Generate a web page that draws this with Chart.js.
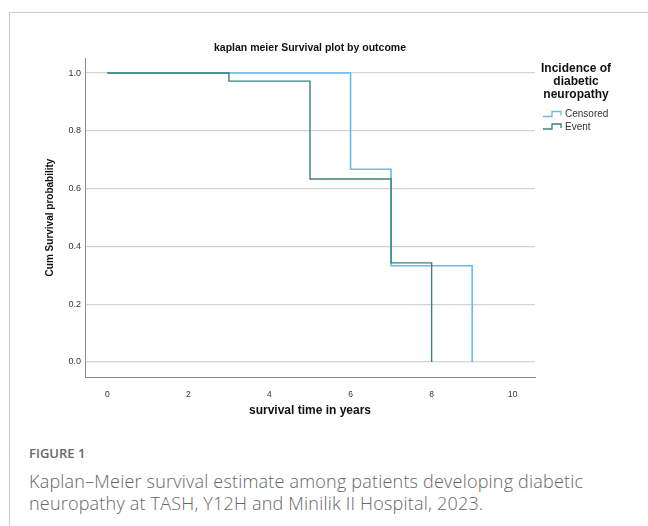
<!DOCTYPE html>
<html>
<head>
<meta charset="utf-8">
<script src="https://cdn.jsdelivr.net/npm/chart.js@4.4.1/dist/chart.umd.min.js"></script>
<style>
    body { margin: 0; background: #fff; width: 648px; height: 526px; overflow: hidden; position: relative; }
    .frame-top { position: absolute; left: 9px; top: 12px; width: 639px; border-top: 1.5px solid #cbcbcb; }
    .frame-left { position: absolute; left: 9px; top: 12px; height: 514px; border-left: 1.5px solid #cbcbcb; }
    #km-chart { position: absolute; left: 0; top: 0; }
    .caption { position: absolute; left: 29px; top: 442px; font-family: "Open Sans", sans-serif; color: #666; }
    .caption .fig { font-size: 13px; font-weight: 600; line-height: 22px; margin-bottom: 6px; }
    .caption .text { font-size: 18px; font-weight: 300; letter-spacing: 0.2px; line-height: 22px; width: 615px; white-space: nowrap; }
</style>
</head>
<body>
<div class="frame-top"></div>
<div class="frame-left"></div>
<canvas id="km-chart" width="648" height="430"></canvas>
<div class="caption">
    <div class="fig">FIGURE 1</div>
    <div class="text">Kaplan–Meier survival estimate among patients developing diabetic<br>neuropathy at TASH, Y12H and Minilik II Hospital, 2023.</div>
</div>
<script>
const chartTitle = 'kaplan meier Survival plot by outcome';
const legendTitle = ['Incidence of', 'diabetic', 'neuropathy'];
const seriesLabels = ['Censored', 'Event'];

// step points: survival drops at each listed time
const censoredTimes = [0, 6, 7, 9];
const censoredSurv = [1.0, 0.667, 0.333, 0.0];
const eventTimes = [0, 3, 5, 7, 8];
const eventSurv = [1.0, 0.972, 0.633, 0.343, 0.0];

const xTicks = [0, 2, 4, 6, 8, 10];
const yTicks = [0.0, 0.2, 0.4, 0.6, 0.8, 1.0];

const FONT = '"Liberation Sans", Arial, sans-serif';

function toPoints(times, values) {
    return times.map((t, i) => ({ x: t, y: values[i] }));
}

// title + step-icon legend, drawn on top
const decorations = {
    id: 'decorations',
    afterDraw(chart) {
        const ctx = chart.ctx;
        const area = chart.chartArea;
        ctx.save();
        ctx.fillStyle = '#111';
        ctx.textAlign = 'center';
        ctx.textBaseline = 'middle';
        ctx.font = 'bold 10.5px ' + FONT;
        ctx.fillText(chartTitle, (area.left + area.right) / 2, 48);

        ctx.font = 'bold 12px ' + FONT;
        legendTitle.forEach((t, i) => ctx.fillText(t, 576, 69 + i * 13));

        ctx.font = '10px ' + FONT;
        ctx.textAlign = 'left';
        chart.data.datasets.forEach((ds, i) => {
            const y = 114.5 + i * 12.5;
            ctx.strokeStyle = ds.borderColor;
            ctx.lineWidth = 1.3;
            ctx.beginPath();
            ctx.moveTo(543, y + 2);
            ctx.lineTo(552, y + 2);
            ctx.lineTo(552, y - 3);
            ctx.lineTo(561, y - 3);
            ctx.lineTo(561, y + 1);
            ctx.stroke();
            ctx.fillStyle = '#333';
            ctx.fillText(ds.label, 565, y);
        });
        ctx.restore();
    }
};

const ctx = document.getElementById('km-chart').getContext('2d');
const kmChart = new Chart(ctx, {
    type: 'line',
    data: {
        datasets: [
            {
                label: seriesLabels[0],
                data: toPoints(censoredTimes, censoredSurv),
                borderColor: '#6cb9ea',
                borderWidth: 1.6,
                stepped: 'before',
                pointRadius: 0,
                fill: false,
                order: 2
            },
            {
                label: seriesLabels[1],
                data: toPoints(eventTimes, eventSurv),
                borderColor: '#3b7f7e',
                borderWidth: 1.4,
                stepped: 'before',
                pointRadius: 0,
                fill: false,
                order: 1
            }
        ]
    },
    options: {
        responsive: false,
        animation: false,
        layout: {
            padding: { left: 20, top: 58, right: 113, bottom: 0 }
        },
        plugins: {
            legend: { display: false },
            title: { display: false },
            tooltip: { enabled: false }
        },
        scales: {
            x: {
                type: 'linear',
                min: -0.55,
                max: 10.55,
                afterBuildTicks: (scale) => { scale.ticks = xTicks.map(v => ({ value: v })); },
                afterFit: (scale) => { scale.height = 53; },
                ticks: {
                    padding: 5,
                    color: '#333',
                    font: { family: FONT, size: 8.5 },
                    callback: (v) => String(v)
                },
                grid: { display: false },
                border: { display: true, color: '#8a8a8a', width: 1 },
                title: {
                    display: true,
                    text: 'survival time in years',
                    color: '#111',
                    font: { family: FONT, size: 12, weight: 'bold' },
                    padding: { top: 0, bottom: 12 }
                }
            },
            y: {
                type: 'linear',
                min: -0.052,
                max: 1.052,
                afterBuildTicks: (scale) => { scale.ticks = yTicks.map(v => ({ value: v })); },
                afterFit: (scale) => { scale.width = 65; },
                ticks: {
                    padding: 4,
                    color: '#333',
                    font: { family: FONT, size: 9 },
                    callback: (v) => Number(v).toFixed(1)
                },
                grid: { color: '#d2d2d2', lineWidth: 1.3, drawTicks: false },
                border: { display: true, color: '#8a8a8a', width: 1 },
                title: {
                    display: true,
                    text: 'Cum Survival probability',
                    color: '#111',
                    font: { family: FONT, size: 10, weight: 'bold' },
                    padding: { top: 24, bottom: 0 }
                }
            }
        }
    },
    plugins: [decorations]
});
</script>
</body>
</html>
